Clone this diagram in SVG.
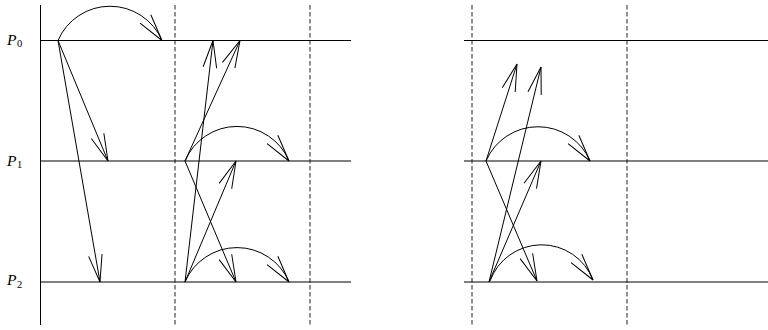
<svg xmlns="http://www.w3.org/2000/svg" width="768" height="330" viewBox="0 0 768 330">
<style>
.ln{stroke:#000;stroke-width:1;fill:none}
.dash{stroke:#222;stroke-width:1;stroke-dasharray:4.5,2.5;fill:none}
.msg{stroke:#000;stroke-width:1;fill:none;marker-end:url(#ah)}
.arc{stroke:#000;stroke-width:1;fill:none;marker-end:url(#ahArc)}
.lbl{font-family:"Liberation Serif",serif;font-style:italic;font-size:15.5px;fill:#000}
.sub{font-style:normal;font-size:10.5px}
</style>
<defs>
<marker id="ah" markerUnits="userSpaceOnUse" markerWidth="30" markerHeight="30" refX="0" refY="0" orient="auto" overflow="visible">
<path d="M-27.2,-6.8 L0,0 L-27.2,6.8" fill="none" stroke="#000" stroke-width="1"/>
</marker>
<marker id="ahArc" markerUnits="userSpaceOnUse" markerWidth="30" markerHeight="30" refX="0" refY="0" orient="52.5" overflow="visible">
<path d="M-27.2,-6.8 L0,0 L-27.2,6.8" fill="none" stroke="#000" stroke-width="1"/>
</marker>
</defs>

<g id="axes-left">
<line class="ln" x1="40.5" y1="5" x2="40.5" y2="325"/>
<line class="dash" x1="175" y1="5" x2="175" y2="325"/>
<line class="dash" x1="310" y1="5" x2="310" y2="325"/>
</g>
<g id="P0">
<line class="ln" x1="40" y1="40.5" x2="351" y2="40.5"/>
<text class="lbl" x="7" y="44.5">P<tspan class="sub" x="17" dy="2">0</tspan></text>
</g>
<g id="P1">
<line class="ln" x1="40" y1="161" x2="351" y2="161"/>
<text class="lbl" x="7" y="165.5">P<tspan class="sub" x="17" dy="2">1</tspan></text>
</g>
<g id="P2">
<line class="ln" x1="40" y1="282" x2="351" y2="282"/>
<text class="lbl" x="7" y="285">P<tspan class="sub" x="17" dy="2.5">2</tspan></text>
</g>

<g id="axes-right">
<line class="dash" x1="472" y1="5" x2="472" y2="325"/>
<line class="dash" x1="627" y1="5" x2="627" y2="325"/>
</g>
<g id="P0-right"><line class="ln" x1="464" y1="40.5" x2="768" y2="40.5"/></g>
<g id="P1-right"><line class="ln" x1="464" y1="161" x2="768" y2="161"/></g>
<g id="P2-right"><line class="ln" x1="464" y1="282" x2="768" y2="282"/></g>

<g id="connectors">
<path class="arc" d="M58,40.5 A56.6,56.6 0 0 1 162,40.5"/>
<line class="msg" x1="58" y1="40.5" x2="108" y2="161"/>
<line class="msg" x1="58" y1="40.5" x2="100" y2="282"/>
<line class="msg" x1="185" y1="282" x2="213" y2="40.5"/>
<line class="msg" x1="185" y1="161" x2="240" y2="40.5"/>
<path class="arc" d="M185,161 A56.4,56.4 0 0 1 289,161"/>
<line class="msg" x1="185" y1="161" x2="236" y2="282"/>
<line class="msg" x1="185" y1="282" x2="236" y2="161"/>
<path class="arc" d="M185,282 A56.5,56.5 0 0 1 289,282"/>

<line class="msg" x1="486" y1="161" x2="517" y2="64"/>
<line class="msg" x1="489" y1="282" x2="541" y2="67"/>
<path class="arc" d="M486,161 A56.6,56.6 0 0 1 590,161"/>
<line class="msg" x1="486" y1="161" x2="537" y2="281"/>
<line class="msg" x1="489" y1="282" x2="541" y2="161"/>
<path class="arc" d="M490,281 A55,55 0 0 1 593,280"/>
</g>
</svg>
